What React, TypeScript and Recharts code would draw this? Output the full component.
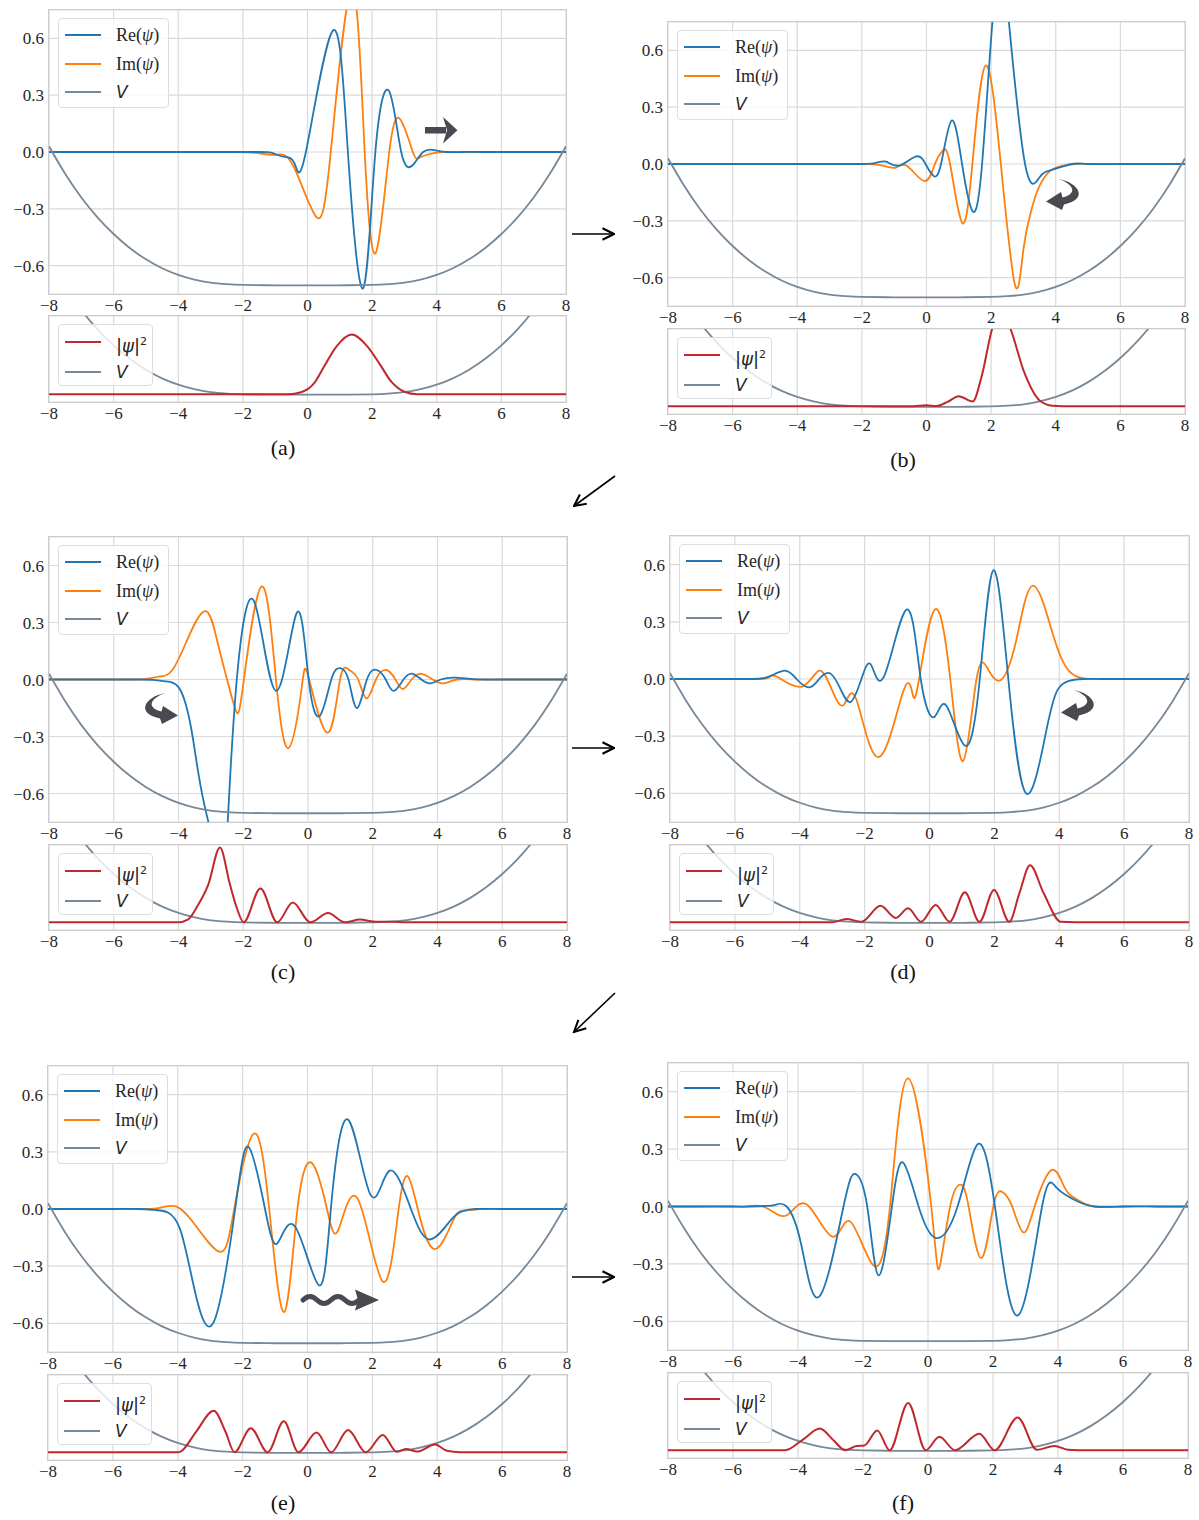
import React from "react";
import { LineChart, Line, XAxis, YAxis, CartesianGrid } from "recharts";

type Pt = [number, number];

// axis ticks
const xTicks = [-8, -6, -4, -2, 0, 2, 4, 6, 8];
const waveTicks = [-0.6, -0.3, 0, 0.3, 0.6];
const densTicks = [0, 1];

// potential V(x) (symmetric well)
const potential: Pt[] = [
  [-8, 0.03], [-7.5, -0.115], [-7, -0.24], [-6.5, -0.345], [-6, -0.433], [-5.5, -0.507],
  [-5, -0.567], [-4.5, -0.614], [-4, -0.649], [-3.5, -0.674], [-3, -0.69], [-2.5, -0.698],
  [-2, -0.702], [-1, -0.704], [0, -0.704], [1, -0.704], [2, -0.702], [2.5, -0.698],
  [3, -0.69], [3.5, -0.674], [4, -0.649], [4.5, -0.614], [5, -0.567], [5.5, -0.507],
  [6, -0.433], [6.5, -0.345], [7, -0.24], [7.5, -0.115], [8, 0.03],
];

// (a)
const reA: Pt[] = [[-8, 0], [-6, 0], [-4, 0], [-3, 0], [-2, 0], [-1.5, 0], [-1.1, -0.005], [-0.75, -0.025], [-0.4, -0.06], [-0.05, 0], [0.78, 0.64], [1.25, 0], [1.72, -0.72], [2.1, 0], [2.53, 0.32], [2.9, 0], [3.25, -0.07], [3.58, 0], [3.93, 0.01], [4.3, 0], [4.8, 0], [5.5, 0], [6.5, 0], [8, 0]];
const imA: Pt[] = [[-8, 0], [-6, 0], [-4, 0], [-3, 0], [-2.2, 0], [-1.6, -0.005], [-1.0, -0.015], [-0.45, -0.07], [0.26, -0.34], [0.72, 0], [1.37, 0.86], [1.77, 0], [2.12, -0.53], [2.53, 0], [2.88, 0.17], [3.26, 0], [3.46, -0.03], [3.8, -0.01], [4.2, 0], [4.8, 0], [5.5, 0], [6.5, 0], [8, 0]];
const densA: Pt[] = [[-8, 0], [-0.6, 0], [-0.2, 0.04], [0.2, 0.22], [0.5, 0.55], [0.9, 0.98], [1.37, 1.22], [1.85, 0.98], [2.25, 0.6], [2.6, 0.25], [3.0, 0.05], [3.4, 0], [8, 0]];

// (b)
const reB: Pt[] = [[-8, 0], [-6, 0], [-4, 0], [-3, 0], [-2.2, 0], [-1.6, 0.005], [-1.25, 0.012], [-0.85, -0.008], [-0.32, 0.04], [-0.03, 0], [0.2, -0.06], [0.45, 0], [0.78, 0.23], [1.1, 0], [1.43, -0.25], [1.72, 0], [2.04, 0.75], [2.3, 1.05], [2.55, 0.75], [3.05, 0], [3.5, -0.07], [3.9, -0.03], [4.5, 0], [5, 0], [6, 0], [7, 0], [8, 0]];
const imB: Pt[] = [[-8, 0], [-6, 0], [-4, 0], [-3, 0], [-2.5, 0], [-1.5, -0.005], [-0.96, -0.02], [-0.6, -0.01], [-0.06, -0.09], [0.26, 0], [0.5, 0.07], [0.73, 0], [1.1, -0.31], [1.42, 0], [1.83, 0.52], [2.3, 0], [2.74, -0.64], [3.0, -0.45], [3.25, -0.24], [3.46, -0.13], [3.8, -0.04], [4.2, -0.01], [4.6, 0], [5.2, 0], [6, 0], [7, 0], [8, 0]];
const densB: Pt[] = [[-8, 0], [-0.4, 0], [0, 0.02], [0.3, 0.005], [0.65, 0.09], [1.0, 0.21], [1.43, 0.1], [1.7, 0.6], [2.03, 1.6], [2.3, 2.0], [2.6, 1.6], [3.02, 0.71], [3.5, 0.12], [3.9, 0.01], [4.2, 0], [8, 0]];

// (c)
const reC: Pt[] = [[-8, 0], [-7, 0], [-6, 0], [-5.3, 0], [-4.8, -0.002], [-4.4, -0.01], [-4.0, -0.04], [-3.7, -0.18], [-3.49, -0.38], [-3.2, -0.66], [-2.7, -0.95], [-2.48, -0.75], [-2.2, 0], [-1.66, 0.41], [-0.99, -0.06], [-0.35, 0.35], [0.02, 0], [0.37, -0.19], [0.72, 0], [0.99, 0.06], [1.25, 0], [1.51, -0.15], [1.82, 0], [2.13, 0.05], [2.4, 0], [2.65, -0.06], [2.95, 0], [3.23, 0.03], [3.5, 0], [3.78, -0.02], [4.1, 0], [4.53, 0.01], [5.0, 0.003], [5.5, 0], [6.5, 0], [8, 0]];
const imC: Pt[] = [[-8, 0], [-7, 0], [-6, 0], [-5.5, 0], [-5.0, 0.003], [-4.6, 0.015], [-4.19, 0.05], [-3.7, 0.22], [-3.16, 0.36], [-2.8, 0.2], [-2.5, 0], [-2.21, -0.17], [-1.98, 0], [-1.43, 0.49], [-0.99, 0], [-0.6, -0.36], [-0.2, -0.05], [0.02, 0.01], [0.6, -0.28], [0.99, 0], [1.28, 0.05], [1.55, 0], [1.81, -0.1], [2.1, 0], [2.42, 0.05], [2.7, 0], [2.93, -0.05], [3.2, 0], [3.51, 0.03], [3.85, 0], [4.19, -0.02], [4.6, 0], [5.2, 0], [6, 0], [7, 0], [8, 0]];
const densC: Pt[] = [[-8, 0], [-4.0, 0], [-3.7, 0.06], [-3.4, 0.35], [-3.08, 0.78], [-2.72, 1.55], [-2.41, 0.78], [-2.2, 0.3], [-1.99, 0], [-1.47, 0.7], [-0.95, 0], [-0.47, 0.41], [0.07, 0], [0.62, 0.19], [1.14, 0], [1.6, 0.055], [2.1, 0.01], [2.6, 0.01], [3.0, 0], [8, 0]];

// (d)
const reD: Pt[] = [[-8, 0], [-7, 0], [-6, 0], [-5.5, 0], [-5.0, 0.01], [-4.46, 0.044], [-4.1, 0], [-3.71, -0.044], [-3.4, 0], [-3.07, 0.03], [-2.75, -0.05], [-2.43, -0.12], [-2.1, 0], [-1.8, 0.074], [-1.39, 0.018], [-0.7, 0.365], [-0.27, 0], [0.14, -0.2], [0.52, -0.14], [1.1, -0.35], [1.55, 0], [1.97, 0.57], [2.43, 0], [2.98, -0.6], [3.59, -0.28], [3.94, -0.06], [4.3, -0.01], [4.75, 0], [5.3, 0], [6, 0], [7, 0], [8, 0]];
const imD: Pt[] = [[-8, 0], [-7, 0], [-6, 0], [-5.5, 0], [-5.0, 0.004], [-4.7, 0.012], [-3.94, -0.04], [-3.4, 0.044], [-3.0, -0.06], [-2.64, -0.135], [-2.26, -0.105], [-1.57, -0.41], [-0.81, -0.065], [-0.52, -0.08], [-0.32, 0], [0.17, 0.365], [0.64, 0], [1.04, -0.43], [1.45, 0], [1.8, 0.053], [2.2, -0.005], [2.67, 0.2], [3.19, 0.49], [3.83, 0.22], [4.29, 0.044], [4.75, 0.003], [5.3, 0], [6, 0], [7, 0], [8, 0]];
const densD: Pt[] = [[-8, 0], [-3.0, 0], [-2.56, 0.07], [-2.1, 0.01], [-1.51, 0.34], [-1.04, 0.09], [-0.66, 0.29], [-0.26, 0.01], [0.19, 0.36], [0.62, 0.01], [1.09, 0.62], [1.54, 0.01], [1.99, 0.67], [2.46, 0.01], [2.77, 0.6], [3.1, 1.18], [3.52, 0.6], [4.05, 0.01], [4.5, 0], [8, 0]];

// (e)
const reE: Pt[] = [[-8, 0], [-7, 0], [-6, 0], [-5.2, 0], [-4.7, -0.005], [-4.29, -0.02], [-3.94, -0.1], [-3.59, -0.34], [-2.93, -0.605], [-2.23, 0], [-1.81, 0.325], [-1.31, 0], [-0.93, -0.18], [-0.38, -0.093], [0.35, -0.4], [0.72, 0], [1.24, 0.47], [1.94, 0.075], [2.52, 0.2], [3.19, 0], [3.77, -0.16], [4.41, -0.06], [4.8, -0.01], [5.2, 0], [6, 0], [7, 0], [8, 0]];
const imE: Pt[] = [[-8, 0], [-7, 0], [-6, 0], [-5.3, 0], [-4.6, 0.005], [-4.06, 0.014], [-3.48, -0.08], [-2.69, -0.225], [-2.26, 0], [-1.66, 0.395], [-1.18, 0], [-0.72, -0.54], [-0.31, 0], [0.14, 0.24], [0.6, 0], [0.95, -0.11], [1.55, 0.053], [2.32, -0.38], [2.81, 0], [3.1, 0.17], [3.4, 0], [3.91, -0.21], [4.49, -0.06], [4.8, -0.01], [5.3, 0], [6, 0], [7, 0], [8, 0]];
const densE: Pt[] = [[-8, 0], [-4.0, 0], [-3.9, 0.02], [-3.43, 0.43], [-2.89, 0.86], [-2.53, 0.43], [-2.25, 0], [-1.75, 0.5], [-1.23, 0], [-0.73, 0.64], [-0.28, 0], [0.28, 0.41], [0.73, 0], [1.25, 0.46], [1.8, 0], [2.32, 0.36], [2.75, 0.01], [3.03, 0.07], [3.38, 0.015], [3.93, 0.16], [4.3, 0.03], [4.7, 0], [8, 0]];

// (f)
const reF: Pt[] = [[-8, 0], [-7, 0], [-6, 0], [-5.5, 0], [-5.0, 0.003], [-4.7, 0.009], [-4.35, 0], [-3.9, -0.2], [-3.34, -0.47], [-2.6, 0], [-2.24, 0.17], [-1.87, 0], [-1.52, -0.36], [-1.11, 0], [-0.77, 0.23], [-0.29, 0], [0.25, -0.165], [0.91, 0], [1.52, 0.324], [2.06, 0], [2.76, -0.57], [3.51, 0], [3.97, 0.096], [4.61, 0.026], [5.13, 0], [6, 0], [7, 0], [8, 0]];
const imF: Pt[] = [[-8, 0], [-7, 0], [-6, 0], [-5.6, 0], [-5.0, -0.005], [-4.36, -0.047], [-3.73, 0.01], [-2.94, -0.158], [-2.39, -0.079], [-1.69, -0.306], [-1.17, 0], [-0.62, 0.67], [0.1, 0], [0.35, -0.32], [0.68, 0], [1.0, 0.114], [1.25, 0], [1.64, -0.27], [2.01, 0], [2.3, 0.075], [2.59, 0], [2.93, -0.135], [3.28, 0], [3.8, 0.19], [4.2, 0.1], [4.55, 0.04], [5.1, 0], [6, 0], [7, 0], [8, 0]];
const densF: Pt[] = [[-8, 0], [-4.4, 0], [-3.85, 0.22], [-3.33, 0.45], [-2.9, 0.2], [-2.55, 0], [-2.2, 0.09], [-1.96, 0.1], [-1.56, 0.41], [-1.18, 0], [-0.61, 0.98], [-0.07, 0], [0.35, 0.28], [0.83, 0], [1.58, 0.34], [2.05, 0], [2.76, 0.68], [3.35, 0.01], [3.89, 0.09], [4.3, 0.01], [4.6, 0], [8, 0]];

const COLORS = {
  re: "#1f77b4",
  im: "#ff7f0e",
  v: "#778899",
  dens: "#c0282d",
  grid: "#dadada",
  frame: "#cccccc",
  ink: "#262626",
  mark: "#4a4952",
};
const SERIF = "'Liberation Serif', 'DejaVu Serif', serif";
const SANS = "'DejaVu Sans', sans-serif";

type Box = { l: number; t: number; r: number; b: number };

const panels: { id: string; re: Pt[]; im: Pt[]; dens: Pt[]; top: Box; bot: Box; label: [number, number] }[] = [
  { id: "a", re: reA, im: imA, dens: densA, top: { l: 49, t: 10, r: 566, b: 294 }, bot: { l: 49, t: 316, r: 566, b: 402 }, label: [283, 448] },
  { id: "b", re: reB, im: imB, dens: densB, top: { l: 668, t: 22, r: 1185, b: 306 }, bot: { l: 668, t: 329, r: 1185, b: 414 }, label: [903, 460] },
  { id: "c", re: reC, im: imC, dens: densC, top: { l: 49, t: 537, r: 567, b: 822 }, bot: { l: 49, t: 845, r: 567, b: 930 }, label: [283, 972] },
  { id: "d", re: reD, im: imD, dens: densD, top: { l: 670, t: 536, r: 1189, b: 822 }, bot: { l: 670, t: 845, r: 1189, b: 930 }, label: [903, 972] },
  { id: "e", re: reE, im: imE, dens: densE, top: { l: 48, t: 1066, r: 567, b: 1352 }, bot: { l: 48, t: 1375, r: 567, b: 1460 }, label: [283, 1503] },
  { id: "f", re: reF, im: imF, dens: densF, top: { l: 668, t: 1063, r: 1188, b: 1350 }, bot: { l: 668, t: 1373, r: 1188, b: 1458 }, label: [903, 1503] },
];

const YW = 50; // y axis width
const MT = 4;
const MR = 4;
const XH = 26; // x axis height

const rows = (pts: Pt[]) => pts.map(([x, y]) => ({ x, y }));
const minus = (s: string) => s.replace("-", "\u2212");
const fmtX = (v: number) => minus(String(v));
const fmtY = (v: number) => minus(v.toFixed(1));
const tickStyle = { fontSize: 17, fill: COLORS.ink, fontFamily: SERIF };

const potRows = rows(potential);

function Frame({ w, h }: { w: number; h: number }) {
  return (
    <div
      style={{
        position: "absolute",
        left: YW - 1,
        top: MT - 1,
        width: w + 2,
        height: h + 2,
        border: `1.4px solid ${COLORS.frame}`,
        boxSizing: "border-box",
      }}
    />
  );
}

function LegendBox({
  items,
  width,
  height,
  rowY,
}: {
  items: { color: string; label: React.ReactNode }[];
  width: number;
  height: number;
  rowY: number[];
}) {
  return (
    <div
      style={{
        position: "absolute",
        left: YW + 9,
        top: MT + 8,
        width,
        height,
        background: "rgba(255,255,255,0.8)",
        border: "1px solid #dddddd",
        borderRadius: 4,
        boxSizing: "border-box",
      }}
    >
      {items.map((it, i) => (
        <React.Fragment key={i}>
          <div
            style={{
              position: "absolute",
              left: 6,
              top: rowY[i] - 1,
              width: 36,
              height: 2,
              background: it.color,
            }}
          />
          <div
            style={{
              position: "absolute",
              left: 57,
              top: rowY[i] - 11,
              height: 22,
              lineHeight: "22px",
              fontSize: 18,
              color: COLORS.ink,
              whiteSpace: "nowrap",
            }}
          >
            {it.label}
          </div>
        </React.Fragment>
      ))}
    </div>
  );
}

const vLabel = <span style={{ fontFamily: SANS, fontStyle: "italic", fontSize: 17 }}>V</span>;

function WavePlot({ box, re, im }: { box: Box; re: Pt[]; im: Pt[] }) {
  const w = box.r - box.l;
  const h = box.b - box.t;
  return (
    <div style={{ position: "absolute", left: box.l - YW, top: box.t - MT }}>
      <LineChart width={w + YW + MR} height={h + MT + XH} margin={{ top: MT, right: MR, bottom: 0, left: 0 }}>
        <CartesianGrid yAxisId="w" stroke={COLORS.grid} strokeWidth={1.2} />
        <XAxis
          type="number"
          dataKey="x"
          domain={[-8, 8]}
          ticks={xTicks}
          interval={0}
          allowDataOverflow
          axisLine={false}
          tickLine={false}
          tickSize={0}
          tickMargin={5}
          height={XH}
          tick={tickStyle}
          tickFormatter={fmtX}
        />
        <YAxis
          yAxisId="w"
          type="number"
          domain={[-0.75, 0.75]}
          ticks={waveTicks}
          interval={0}
          allowDataOverflow
          axisLine={false}
          tickLine={false}
          tickSize={0}
          tickMargin={5}
          width={YW}
          tick={tickStyle}
          tickFormatter={fmtY}
        />
        <Line yAxisId="w" data={rows(im)} dataKey="y" type="natural" stroke={COLORS.im} strokeWidth={1.8} dot={false} isAnimationActive={false} />
        <Line yAxisId="w" data={rows(re)} dataKey="y" type="natural" stroke={COLORS.re} strokeWidth={1.8} dot={false} isAnimationActive={false} />
        <Line yAxisId="w" data={potRows} dataKey="y" type="natural" stroke={COLORS.v} strokeWidth={1.8} dot={false} isAnimationActive={false} />
      </LineChart>
      <Frame w={w} h={h} />
      <LegendBox
        width={111}
        height={90}
        rowY={[16, 45, 73]}
        items={[
          { color: COLORS.re, label: <span style={{ fontFamily: SERIF }}>Re(<i>ψ</i>)</span> },
          { color: COLORS.im, label: <span style={{ fontFamily: SERIF }}>Im(<i>ψ</i>)</span> },
          { color: COLORS.v, label: vLabel },
        ]}
      />
    </div>
  );
}

function DensityPlot({ box, dens }: { box: Box; dens: Pt[] }) {
  const w = box.r - box.l;
  const h = box.b - box.t;
  return (
    <div style={{ position: "absolute", left: box.l - YW, top: box.t - MT }}>
      <LineChart width={w + YW + MR} height={h + MT + XH} margin={{ top: MT, right: MR, bottom: 0, left: 0 }}>
        <CartesianGrid yAxisId="p" stroke={COLORS.grid} strokeWidth={1.2} />
        <XAxis
          type="number"
          dataKey="x"
          domain={[-8, 8]}
          ticks={xTicks}
          interval={0}
          allowDataOverflow
          axisLine={false}
          tickLine={false}
          tickSize={0}
          tickMargin={5}
          height={XH}
          tick={tickStyle}
          tickFormatter={fmtX}
        />
        <YAxis
          yAxisId="p"
          type="number"
          domain={[-0.16, 1.6]}
          ticks={densTicks}
          allowDataOverflow
          axisLine={false}
          tickLine={false}
          tick={false}
          width={YW}
        />
        <YAxis yAxisId="v" type="number" domain={[-0.744, -0.272]} allowDataOverflow hide />
        <Line yAxisId="v" data={potRows} dataKey="y" type="natural" stroke={COLORS.v} strokeWidth={1.8} dot={false} isAnimationActive={false} />
        <Line yAxisId="p" data={rows(dens)} dataKey="y" type="monotone" stroke={COLORS.dens} strokeWidth={2} dot={false} isAnimationActive={false} />
      </LineChart>
      <Frame w={w} h={h} />
      <LegendBox
        width={95}
        height={62}
        rowY={[17, 47]}
        items={[
          {
            color: COLORS.dens,
            label: (
              <span style={{ fontFamily: SANS }}>
                |<i>ψ</i>|<sup style={{ fontSize: 11 }}>2</sup>
              </span>
            ),
          },
          { color: COLORS.v, label: vLabel },
        ]}
      />
    </div>
  );
}

function CurvedArrow({ x, y, flip }: { x: number; y: number; flip?: boolean }) {
  const tr = flip ? `translate(${x + 40},${y}) scale(-1,1)` : `translate(${x},${y})`;
  return (
    <path
      transform={tr}
      fill={COLORS.mark}
      d="M 14 2 C 34 6, 44 22, 19 27.5 L 17 33 L 1 24.5 L 16 15 L 17.5 20.5 C 32 17, 30 8, 14 2 Z"
    />
  );
}

function Marks() {
  return (
    <svg width={1199} height={1520} style={{ position: "absolute", left: 0, top: 0, pointerEvents: "none" }}>
      <defs>
        <marker id="tip" viewBox="0 0 10 10" refX="9" refY="5" markerWidth="9" markerHeight="9" orient="auto">
          <path d="M 1 1 L 9 5 L 1 9" fill="none" stroke="#000" strokeWidth="1.4" />
        </marker>
      </defs>
      {/* arrows between the panels */}
      <line x1={572} y1={234} x2={614} y2={234} stroke="#000" strokeWidth={1.6} markerEnd="url(#tip)" />
      <line x1={615} y1={476} x2={574} y2={506} stroke="#000" strokeWidth={1.6} markerEnd="url(#tip)" />
      <line x1={572} y1={748} x2={614} y2={748} stroke="#000" strokeWidth={1.6} markerEnd="url(#tip)" />
      <line x1={615} y1={993} x2={574} y2={1032} stroke="#000" strokeWidth={1.6} markerEnd="url(#tip)" />
      <line x1={572} y1={1277} x2={614} y2={1277} stroke="#000" strokeWidth={1.6} markerEnd="url(#tip)" />

      {/* motion hints inside the plots */}
      <rect x={425} y={127} width={21} height={6.5} fill={COLORS.mark} />
      <path d="M 443 117 L 457.5 130.2 L 443 143.5 L 447 130.2 Z" fill={COLORS.mark} />
      <CurvedArrow x={1045} y={177} />
      <CurvedArrow x={139} y={691} flip />
      <CurvedArrow x={1060} y={688} />
      <path
        d="M 303 1300 Q 310 1293 317 1300 T 331 1300 T 345 1300 T 359 1300"
        fill="none"
        stroke={COLORS.mark}
        strokeWidth={5}
        strokeLinecap="round"
      />
      <path d="M 355 1289.5 L 379 1300 L 355 1310.5 L 358 1300 Z" fill={COLORS.mark} />
    </svg>
  );
}

export default function App() {
  return (
    <div style={{ position: "absolute", left: 0, top: 0, width: 1199, height: 1520, background: "#fff", fontFamily: SERIF }}>
      {panels.map((p) => (
        <React.Fragment key={p.id}>
          <WavePlot box={p.top} re={p.re} im={p.im} />
          <DensityPlot box={p.bot} dens={p.dens} />
          <div
            style={{
              position: "absolute",
              left: p.label[0] - 30,
              top: p.label[1] - 13,
              width: 60,
              textAlign: "center",
              fontSize: 22,
              lineHeight: "26px",
              color: "#111",
            }}
          >
            ({p.id})
          </div>
        </React.Fragment>
      ))}
      <Marks />
    </div>
  );
}
